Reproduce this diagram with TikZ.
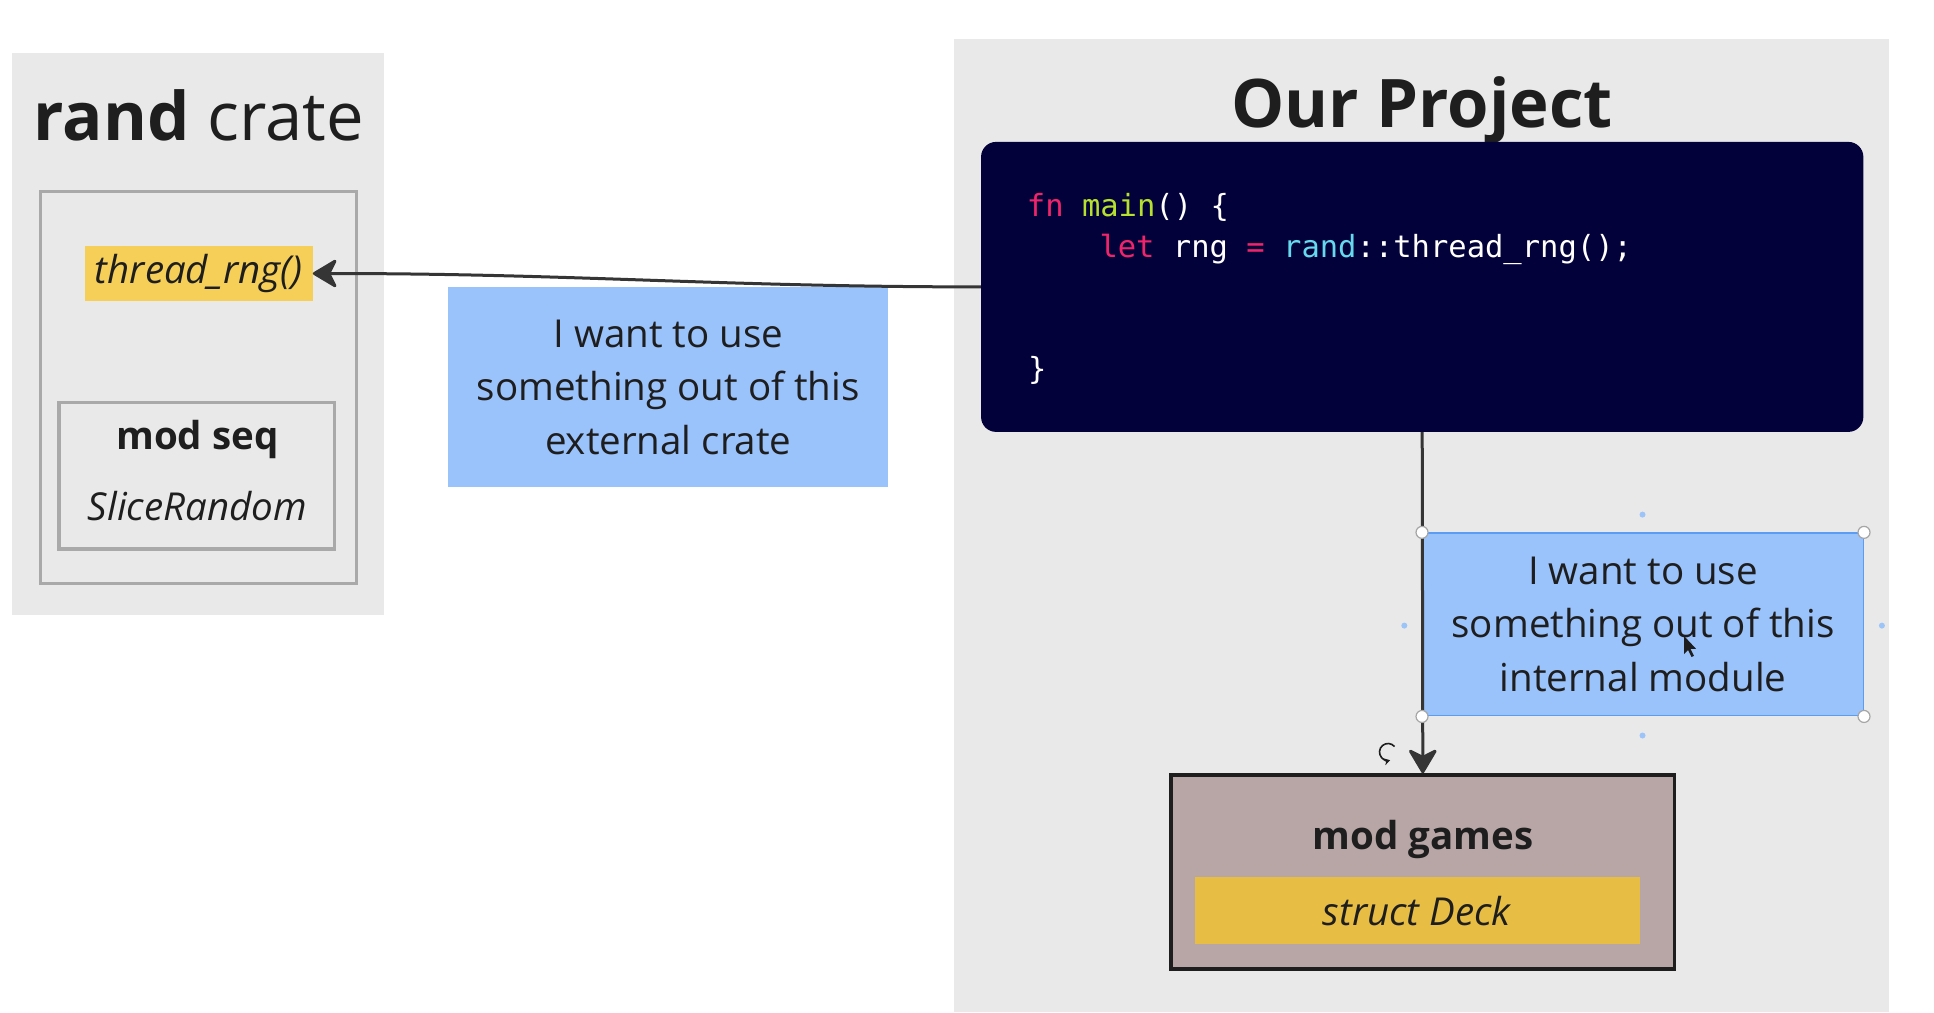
\documentclass[tikz,border=0pt]{standalone}
\usepackage{fontspec}
\setmainfont{Open Sans}
\setmonofont{DejaVu Sans Mono}
\usetikzlibrary{positioning}
\usetikzlibrary{arrows.meta}
\definecolor{panel-gray}{HTML}{E9E9E9}
\definecolor{frame-gray}{HTML}{A9A9A9}
\definecolor{note-blue}{HTML}{9AC2FB}
\definecolor{select-blue}{HTML}{5B9CF5}
\definecolor{fn-yellow}{HTML}{F5CF57}
\definecolor{deck-yellow}{HTML}{E8BD44}
\definecolor{games-rose}{HTML}{B8A6A6}
\definecolor{code-navy}{HTML}{03013A}
\definecolor{code-pink}{HTML}{F0246B}
\definecolor{code-green}{HTML}{B5E02E}
\definecolor{code-cyan}{HTML}{66D9EF}
\definecolor{ink}{HTML}{1E1E1E}
\colorlet{arrow-ink}{ink!90}
\newcommand{\bodysize}{\fontsize{38.5}{53.8}\selectfont}
\newcommand{\titlesize}{\fontsize{67}{80}\selectfont}
\newcommand{\codesize}{\fontsize{30.5}{40.6}\selectfont}
\tikzset{
  sized/.style 2 args={minimum width=#1pt, minimum height=#2pt, inner sep=0pt},
  panel/.style={fill=panel-gray},
  frame/.style={draw=frame-gray, line width=3.5pt},
  item/.style={font=\bodysize, text=ink},
  label-text/.style={inner sep=0pt, text=ink},
  title/.style={inner sep=0pt, text=ink, font=\titlesize},
  note/.style={fill=note-blue, align=center, font=\bodysize, text=ink},
  code-box/.style={fill=code-navy, rounded corners=15pt},
  code-line/.style={anchor=base west, inner sep=0pt, text=white, font=\codesize\ttfamily},
  games/.style={fill=games-rose, draw=ink, line width=3.5pt},
  uses-path/.style={draw=arrow-ink, line width=3pt, -{Stealth[length=27pt, width=32pt, inset=8pt, round]}},
  handle/.style={fill=white, draw=gray!70, line width=1.2pt},
}
\begin{document}
\begin{tikzpicture}[x=1pt, y=-1pt]
\useasboundingbox[fill=white] (0,0) rectangle (1934,1012);
% the rand crate
\node[panel, sized={371.5}{561.5}] (rand-panel) at (198,333.8) {};
\node[title, anchor=base] (rand-title) at (198.8,140) {\textbf{rand} crate};
\node[frame, sized={316}{392}] (rand-frame) at (198.7,387.6) {};
\node[item, sized={227.7}{55}, fill=fn-yellow] (thread-fn) at (198.8,273.5) {\textit{thread\_rng()}};
\node[frame, sized={275.2}{146.8}] (seq-mod) at (196.8,475.7) {};
\node[label-text, font=\bodysize\bfseries] (seq-name) at (197.4,439.5) {mod seq};
\node[label-text, font=\bodysize\itshape] (seq-item) at (197.4,506) {SliceRandom};
\node[note, sized={440}{200}] (crate-note) at (668.3,387.3) {I want to use\\something out of this\\external crate};
% our project
\node[panel, sized={935.4}{972.5}] (project-panel) at (1421.6,525.7) {};
\node[title, font=\titlesize\bfseries, anchor=base] (project-title) at (1422.3,127.3) {Our Project};
\node[code-box, sized={882.3}{290}] (main-code) at (1422.2,286.9) {};
\node[code-line] (fn-line) at (1026.7,216.7) {\textcolor{code-pink}{fn} \textcolor{code-green}{main}() \{};
\node[code-line] (let-line) at (1099.3,257.3) {\textcolor{code-pink}{let} rng \textcolor{code-pink}{=} \textcolor{code-cyan}{rand}::thread\_rng();};
\node[code-line] (end-line) at (1027.9,379) {\}};
\node[note, sized={440.5}{182.6}, draw=select-blue, line width=1.5pt] (module-note) at (1643,624.4) {I want to use\\something out of this\\internal module};
\node[games, sized={503.5}{193.7}] (games-mod) at (1422.8,871.9) {};
\node[label-text, font=\bodysize\bfseries] (games-name) at (1422.8,839.5) {mod games};
\node[item, sized={445.5}{66.6}, fill=deck-yellow] (deck-struct) at (1417.3,910.7) {\textit{struct Deck}};
% connectors
\draw[uses-path] (main-code.west) to[out=180, in=0] (thread-fn.east);
\draw[uses-path] (main-code.south) -- (games-mod.north);
% selection marks
\foreach \corner in {north west, north east, south west, south east}
  \draw[handle] (module-note.\corner) circle (6pt);
\foreach \dot in {(1642.5,514.6), (1642.5,735.5), (1404.3,625.6), (1881.9,625.6)}
  \fill[select-blue!60] \dot circle (3pt);
\coordinate (rotate-mark) at (1388,752);
\draw[ink, line width=1.6pt, -{Stealth[length=6pt, width=7pt]}] ([shift={(40:8.5pt)}]rotate-mark) arc[start angle=40, end angle=285, radius=8.5pt];
\coordinate (cursor-tip) at (1684,636);
\fill[ink] (cursor-tip) -- ++(0,18) -- ++(4,-4) -- ++(3.5,7) -- ++(2.5,-1.2) -- ++(-3.5,-7) -- ++(5.5,0) -- cycle;
\end{tikzpicture}
\end{document}
